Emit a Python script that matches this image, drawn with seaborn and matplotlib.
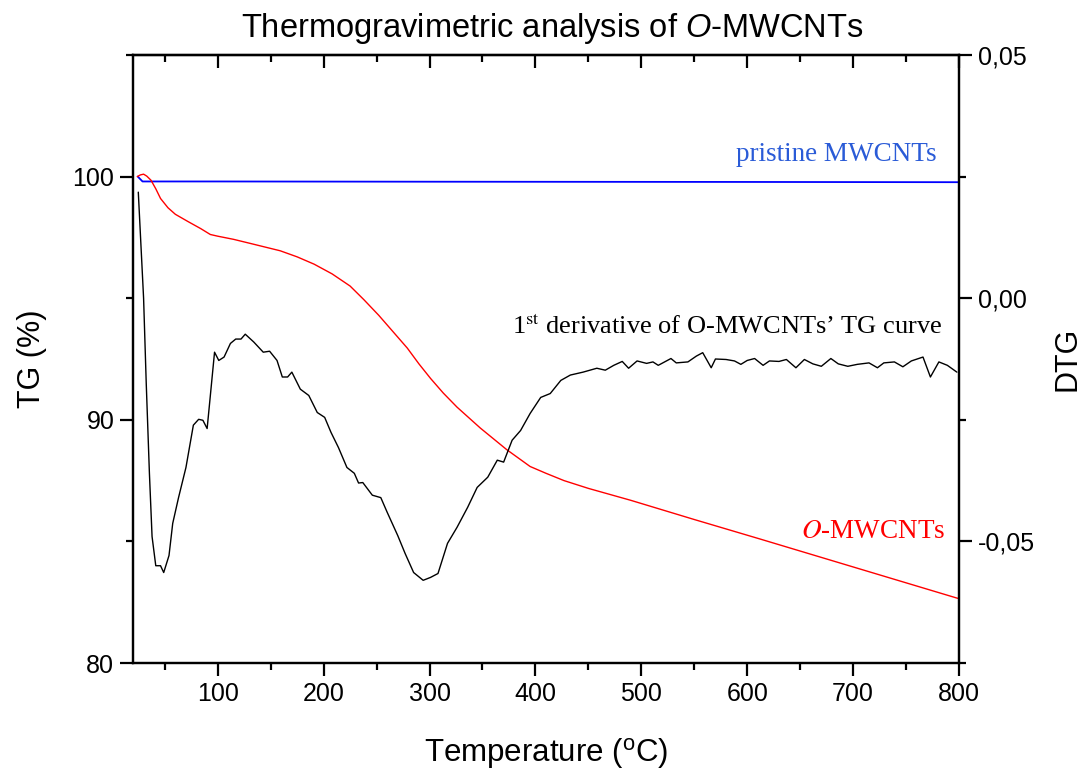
import matplotlib
matplotlib.use("Agg")
import matplotlib.pyplot as plt
from matplotlib.ticker import FixedLocator, MultipleLocator, FixedFormatter
import seaborn as sns
import pandas as pd

# ---------------- data ----------------
tg_T = [24, 27, 30, 33, 37, 41.5, 46, 53, 60, 72, 84, 93, 100, 115, 131, 159, 175, 191, 208,
        225, 238, 252, 265, 279, 290, 301, 313, 326, 348, 373, 395, 410, 427, 450, 490, 550,
        612, 700, 798, 800]
tg_val = [100.0, 100.07, 100.1, 100.02, 99.85, 99.5, 99.1, 98.72, 98.45, 98.15, 97.86, 97.62,
          97.55, 97.42, 97.25, 96.95, 96.7, 96.4, 96.0, 95.5, 94.94, 94.3, 93.65, 92.95, 92.3,
          91.7, 91.1, 90.52, 89.66, 88.77, 88.08, 87.8, 87.5, 87.18, 86.69, 85.9, 85.1,
          83.95, 82.67, 82.65]

pristine_T = [24.5, 29, 100, 300, 600, 800]
pristine_val = [100.0, 99.8, 99.8, 99.79, 99.78, 99.77]

dtg_T = [25, 30, 32.5, 35.5, 38, 41.5, 46, 49, 54, 57.5, 63, 70, 77, 82, 86, 90, 92.6, 97,
         101, 106, 112, 117, 122, 126, 134, 143, 149, 156, 161, 166, 170, 178, 186, 194,
         201, 207, 214, 222, 229, 233, 237, 246, 254, 260, 270, 277, 285, 294, 301, 308,
         317, 326, 336, 345, 355, 364, 370, 378, 386, 395, 405, 414, 424, 433, 445, 458,
         466, 474, 482, 488, 496, 505, 511, 516, 522, 528, 533, 544, 552, 558, 566, 570,
         580, 588, 594, 600, 607, 615, 621, 630, 637, 646, 654, 662, 670, 679, 686, 695,
         704, 715, 723, 729, 739, 747, 755, 766, 773, 781, 789, 798]
dtg_val = [0.0218, 0.0, -0.0175, -0.036, -0.049, -0.055, -0.055, -0.0564, -0.0529, -0.0463,
           -0.041, -0.0348, -0.0261, -0.0249, -0.0251, -0.0268, -0.021, -0.0111, -0.0128,
           -0.0121, -0.0093, -0.0084, -0.0084, -0.0074, -0.009, -0.0111, -0.0109, -0.0128,
           -0.0162, -0.0162, -0.0152, -0.0187, -0.02, -0.0235, -0.0245, -0.0276, -0.0307,
           -0.0348, -0.036, -0.038, -0.0379, -0.0405, -0.041, -0.044, -0.0488, -0.0525,
           -0.0564, -0.058, -0.0574, -0.0566, -0.0504, -0.0471, -0.043, -0.0389, -0.0368,
           -0.0333, -0.0337, -0.0292, -0.0272, -0.0237, -0.0204, -0.0196, -0.0169, -0.0158,
           -0.0152, -0.0144, -0.0148, -0.0138, -0.013, -0.0144, -0.0129, -0.0134, -0.0131,
           -0.0138, -0.0131, -0.0124, -0.0133, -0.0131, -0.0119, -0.0112, -0.0143, -0.0125,
           -0.0126, -0.0129, -0.0136, -0.0128, -0.0124, -0.0138, -0.0129, -0.013, -0.0126,
           -0.0143, -0.0126, -0.0135, -0.014, -0.0124, -0.0135, -0.014, -0.0136, -0.0133,
           -0.0143, -0.0133, -0.0131, -0.0141, -0.0129, -0.0121, -0.0162, -0.0131, -0.0138,
           -0.0152]

x_ticks = [100, 200, 300, 400, 500, 600, 700, 800]
tg_ticks = [80, 90, 100]
dtg_ticks = [-0.05, 0.0, 0.05]
dtg_tick_labels = ["-0,05", "0,00", "0,05"]

title_text = "Thermogravimetric analysis of $\\mathit{O}$-MWCNTs"
xlabel_text = "Temperature ($^{\\mathrm{o}}$C)"
ylabel_left = "TG (%)"
ylabel_right = "DTG"
lbl_pristine = "pristine MWCNTs"
lbl_omw = "$\\mathit{O}$-MWCNTs"
lbl_deriv = "1$^{\\mathrm{st}}$ derivative of O-MWCNTs\u2019 TG curve"

# ---------------- style ----------------
sns.set_style("ticks")
plt.rcParams["font.family"] = ["Liberation Sans", "DejaVu Sans"]
plt.rcParams["mathtext.fontset"] = "custom"
plt.rcParams["mathtext.rm"] = "Liberation Sans"
plt.rcParams["mathtext.it"] = "Liberation Sans:italic"
plt.rcParams["axes.linewidth"] = 1.6
for k in ("text.color", "axes.labelcolor", "xtick.color", "ytick.color", "axes.edgecolor"):
    plt.rcParams[k] = "black"

df_tg = pd.DataFrame({"T": tg_T, "TG": tg_val})
df_pr = pd.DataFrame({"T": pristine_T, "TG": pristine_val})
df_dtg = pd.DataFrame({"T": dtg_T, "DTG": dtg_val})

fig = plt.figure(figsize=(10.83, 7.69), dpi=100)
ax = fig.add_axes([133 / 1083, 1 - 663 / 769, 826 / 1083, 608 / 769])
ax2 = ax.twinx()

sns.lineplot(data=df_pr, x="T", y="TG", ax=ax, color="#0000ff", lw=1.3)
sns.lineplot(data=df_tg, x="T", y="TG", ax=ax, color="#ff0000", lw=1.0)
sns.lineplot(data=df_dtg, x="T", y="DTG", ax=ax2, color="black", lw=1.0)

ax.set_xlim(20, 800)
ax.set_ylim(80, 105)
ax2.set_ylim(-0.075, 0.05)

# ticks
ax.xaxis.set_major_locator(FixedLocator(x_ticks))
ax.xaxis.set_minor_locator(MultipleLocator(50))
ax.yaxis.set_major_locator(FixedLocator(tg_ticks))
ax.yaxis.set_minor_locator(MultipleLocator(5))
ax2.yaxis.set_major_locator(FixedLocator(dtg_ticks))
ax2.yaxis.set_major_formatter(FixedFormatter(dtg_tick_labels))
ax2.yaxis.set_minor_locator(MultipleLocator(0.025))

ax.tick_params(axis="x", which="both", direction="out", top=False, bottom=True,
               labelsize=18, width=1.6, pad=4, colors="black")
ax.tick_params(axis="x", which="major", length=9.5)
ax.tick_params(axis="x", which="minor", length=5)
ax.tick_params(axis="y", which="both", direction="out", labelsize=18, width=1.6, pad=4,
               colors="black")
ax.tick_params(axis="y", which="major", length=9.5)
ax.tick_params(axis="y", which="minor", length=5)
ax2.tick_params(axis="y", which="both", direction="out", labelsize=18, width=1.6, pad=4,
                colors="black")
ax2.tick_params(axis="y", which="major", length=9.5)
ax2.tick_params(axis="y", which="minor", length=5)

# top axis ticks pointing inward
sec = ax.secondary_xaxis("top")
sec.xaxis.set_major_locator(FixedLocator(x_ticks))
sec.xaxis.set_minor_locator(MultipleLocator(50))
sec.tick_params(axis="x", which="both", direction="in", labeltop=False, width=1.6,
                colors="black")
sec.tick_params(axis="x", which="major", length=9.5)
sec.tick_params(axis="x", which="minor", length=5)
sec.spines["top"].set_linewidth(1.6)
sec.spines["top"].set_color("black")

ax.set_xlabel(xlabel_text, fontsize=22.5)
ax.xaxis.set_label_coords(0.5, -0.12)
ax.set_ylabel(ylabel_left, fontsize=22)
ax.yaxis.set_label_coords(-0.104, 0.5)
ax2.set_ylabel(ylabel_right, fontsize=22)
ax2.yaxis.set_label_coords(1.113, 0.5)

fig.text((243 + 862) / 2 / 1083, 1 - 28 / 769, title_text, fontsize=23.5,
         ha="center", va="center", math_fontfamily="custom")

serif = ["Liberation Serif", "DejaVu Serif"]
ax.text(779, 100.9, lbl_pristine, color="#2a5bd7", fontsize=19.5, family=serif,
        ha="right", va="center")
ax.text(784, 93.83, lbl_deriv, color="black", fontsize=19, family=serif,
        ha="right", va="center", math_fontfamily="stix")
ax.text(787, 85.39, lbl_omw, color="#ff0000", fontsize=19.5, family=serif,
        ha="right", va="center", math_fontfamily="stix")

for a in (ax, ax2):
    for s in a.spines.values():
        s.set_linewidth(1.6)
        s.set_color("black")

fig.savefig("out.png", dpi=100)
